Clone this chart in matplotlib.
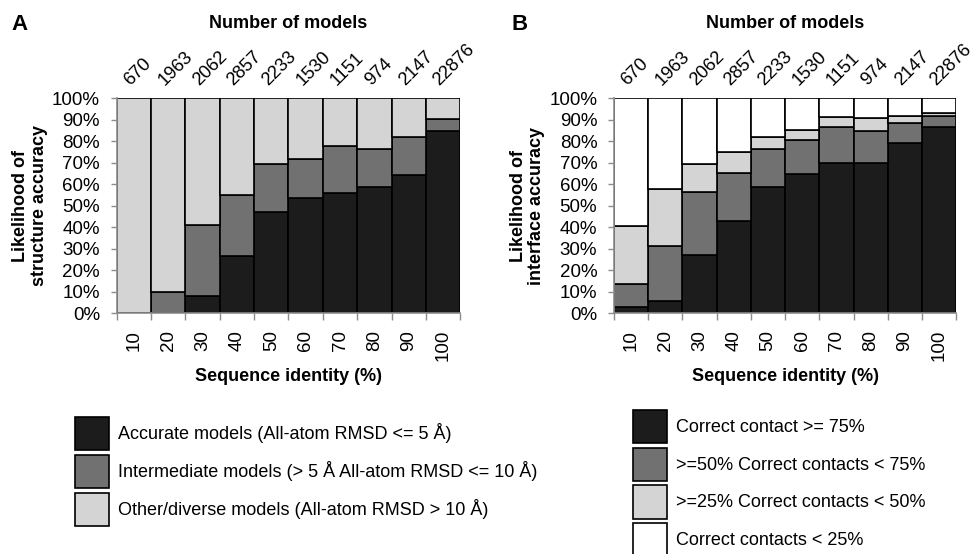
import matplotlib.pyplot as plt
import numpy as np

plt.rcParams['font.family'] = ['Liberation Sans', 'DejaVu Sans']

identity = ['10', '20', '30', '40', '50', '60', '70', '80', '90', '100']
n_models = ['670', '1963', '2062', '2857', '2233', '1530', '1151', '974', '2147', '22876']

# panel A, stacked percentages
a_accurate = [0, 0, 8, 26.4, 46.8, 53.3, 55.8, 58.8, 64, 84.8]
a_intermediate = [0, 10, 33, 28.6, 22.5, 18.3, 21.7, 17.5, 17.9, 5.4]
a_other = [100, 90, 59, 45, 30.7, 28.4, 22.5, 23.7, 18.1, 9.8]

# panel B, stacked percentages
b_ge75 = [2.6, 5.7, 27, 42.8, 58.4, 64.5, 69.8, 69.9, 79.1, 86.5]
b_50_75 = [10.9, 25.3, 29.4, 22.2, 17.7, 16, 16.6, 14.9, 9.3, 5]
b_25_50 = [26.8, 26.7, 13.1, 9.7, 5.6, 4.6, 4.6, 5.7, 3.2, 1.5]
b_lt25 = [59.7, 42.3, 30.5, 25.3, 18.3, 14.9, 9, 9.5, 8.4, 7]

labels_a = ['Accurate models (All-atom RMSD <= 5 Å)',
            'Intermediate models (> 5 Å All-atom RMSD <= 10 Å)',
            'Other/diverse models (All-atom RMSD > 10 Å)']
labels_b = ['Correct contact >= 75%',
            '>=50% Correct contacts < 75%',
            '>=25% Correct contacts < 50%',
            'Correct contacts < 25%']

colors = ['#1c1c1c', '#717171', '#d4d4d4', '#ffffff']
grey = '#8c8c8c'


def stacked(ax, series, labels, ylabel):
    x = np.arange(len(identity))
    bottom = np.zeros(len(identity))
    for vals, lab, col in zip(series, labels, colors):
        ax.bar(x, vals, width=1.0, bottom=bottom, color=col, edgecolor='black',
               linewidth=1.2, label=lab)
        bottom += np.array(vals)
    ax.set_xlim(-0.5, 9.5)
    ax.set_ylim(0, 100)
    ax.set_yticks(range(0, 101, 10))
    ax.set_yticklabels([f'{v}%' for v in range(0, 101, 10)], fontsize=13.5)
    ax.set_xticks(x)
    ax.set_xticklabels(identity, rotation=90, fontsize=13.5, va='top')
    ax.set_xticks(np.arange(-0.5, 10, 1), minor=True)
    ax.tick_params(axis='x', which='major', length=0, pad=12)
    ax.tick_params(axis='x', which='minor', length=5, color=grey, width=1)
    ax.tick_params(axis='y', length=4, color=grey, width=1, pad=8)
    for s in ['top', 'right']:
        ax.spines[s].set_visible(False)
    for s in ['left', 'bottom']:
        ax.spines[s].set_color(grey)
        ax.spines[s].set_linewidth(1.2)
    ax.set_xlabel('Sequence identity (%)', fontsize=13, fontweight='bold', labelpad=5)
    ax.set_ylabel(ylabel, fontsize=13, fontweight='bold', linespacing=1.15)
    ax.yaxis.set_label_coords(-0.2, 0.5)
    for i, n in enumerate(n_models):
        ax.text(i - 0.02, 1.045, n, transform=ax.get_xaxis_transform(), rotation=45,
                rotation_mode='anchor', ha='left', va='bottom', fontsize=13.2)
    ax.text(0.5, 1.345, 'Number of models', transform=ax.transAxes, ha='center',
            va='center', fontsize=13, fontweight='bold')


fig = plt.figure(figsize=(9.73, 5.54), dpi=100)
ax1 = fig.add_axes([0.120, 0.435, 0.353, 0.388])
ax2 = fig.add_axes([0.631, 0.435, 0.352, 0.388])

stacked(ax1, [a_accurate, a_intermediate, a_other], labels_a,
        'Likelihood of\nstructure accuracy')
stacked(ax2, [b_ge75, b_50_75, b_25_50, b_lt25], labels_b,
        'Likelihood of\ninterface accuracy')

fig.text(0.012, 0.955, 'A', fontsize=16, fontweight='bold', va='center')
fig.text(0.526, 0.955, 'B', fontsize=16, fontweight='bold', va='center')

leg_kw = dict(frameon=False, loc='upper left', fontsize=13, handlelength=1.9,
              handleheight=2.45, labelspacing=0.25, handletextpad=0.5,
              borderpad=0, borderaxespad=0)
h, l = ax1.get_legend_handles_labels()
fig.legend(h, l, bbox_to_anchor=(0.077, 0.247), **leg_kw)
h, l = ax2.get_legend_handles_labels()
fig.legend(h, l, bbox_to_anchor=(0.6506, 0.26), **leg_kw)

fig.savefig('out.png', dpi=100)
